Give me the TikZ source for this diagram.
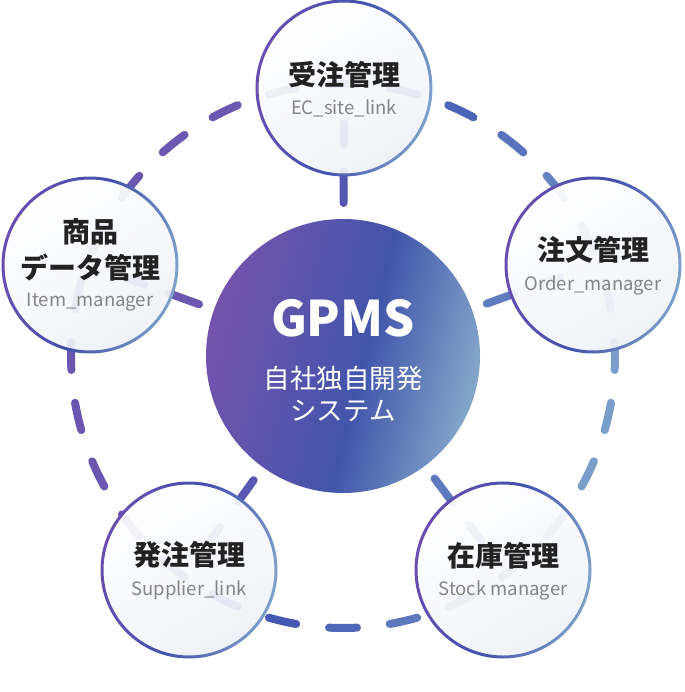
\documentclass[tikz,border=0pt]{standalone}
\usepackage{fontspec}
\setmainfont{Noto Sans CJK JP}
\definecolor{cP}{HTML}{6B56B0}
\definecolor{cB}{HTML}{4457B3}
\definecolor{cL}{HTML}{7A9DC9}
\definecolor{gP}{HTML}{7553AD}
\definecolor{gB}{HTML}{4255AB}
\definecolor{gL}{HTML}{84A8CA}
\definecolor{bP}{HTML}{6A4DAF}
\definecolor{bB}{HTML}{4352AD}
\definecolor{bL}{HTML}{7EA2C9}
\definecolor{cin}{HTML}{EDF1F8}
\definecolor{ttl}{HTML}{222222}
\definecolor{sub}{HTML}{858585}
\pgfdeclarehorizontalshading{gpmsshade}{100bp}{color(0bp)=(gP); color(25bp)=(gP); color(54bp)=(gB); color(75bp)=(gL); color(100bp)=(gL)}
\pgfdeclarehorizontalshading{bordershade}{100bp}{color(0bp)=(bP); color(25bp)=(bP); color(50bp)=(bB); color(75bp)=(bL); color(100bp)=(bL)}
\newcommand\setdc[1]{%
  \pgfmathsetmacro\dcp{100*max(0,min(1,(#1+130)/138))}%
  \pgfmathsetmacro\dcq{100*max(0,min(1,(#1-8)/262))}%
  \colorlet{dctmp}{cB!\dcp!cP}%
  \colorlet{dc}{cL!\dcq!dctmp}}
\colorlet{dc}{cB}
\tikzset{
  dashseg/.style={line width=8pt, line cap=round, draw=dc},
  title/.style={font=\fontsize{28}{30}\selectfont\bfseries, text=ttl, inner sep=0},
  subtitle/.style={font=\fontsize{18.5}{20}\selectfont, text=sub, inner sep=0},
  sat/.style={circle, minimum size=176pt, inner sep=0},
  hub/.style={circle, minimum size=274pt, inner sep=0},
}
\begin{document}
\begin{tikzpicture}[x=1pt,y=-1pt]
\useasboundingbox (0,0) rectangle (684,692);
\coordinate (ring) at (343,356);
\node[hub] (g) at (343,356) {};
\node[sat] (n1) at (344,88) {};
\node[sat] (n2) at (593,265) {};
\node[sat] (n3) at (503,570) {};
\node[sat] (n4) at (189,570) {};
\node[sat] (n5) at (90,265) {};
% dashed ring
\foreach \i in {0,...,27}{
  \pgfmathsetmacro\th{90+\i*360/28}
  \pgfmathsetmacro\sv{272*cos(\th)+0.27*272*sin(\th)}
  \setdc{\sv}
  \draw[dashseg] (ring) ++(\th-2.95:272) arc[start angle=\th-2.95, end angle=\th+2.95, radius=272];
}
% spokes
\foreach \n/\sv in {n1/-45, n2/142, n3/137, n4/-61, n5/-173}{
  \setdc{\sv}
  \draw[dashseg, shorten <=153pt, shorten >=84pt] (g.center) -- (\n.center);
  \draw[dashseg, shorten <=211pt, shorten >=35pt] (g.center) -- (\n.center);
}
% satellites
\foreach \n in {n1,n2,n3,n4,n5}{
  \shade[top color=white, bottom color=cin, shading angle=30, fill opacity=0.93] (\n.center) circle[radius=87];
  \shade[shading=bordershade, shading angle=-14, even odd rule] (\n.center) circle[radius=88.5] (\n.center) circle[radius=85.5];
}
% hub
\shade[shading=gpmsshade, shading angle=-14] (g.center) circle[radius=137];
% texts
\node[font=\fontsize{49}{52}\selectfont\bfseries, text=white, inner sep=0] (h1) at ([yshift=38pt]g.center) {GPMS};
\node[font=\fontsize{26.5}{28}\selectfont, text=white, inner sep=0] (h2) at ([yshift=-22pt]g.center) {自社独自開発};
\node[font=\fontsize{26.5}{28}\selectfont, text=white, inner sep=0] (h3) at ([yshift=-55pt]g.center) {システム};
\node[title] (t1) at ([yshift=13pt]n1.center) {受注管理};
\node[subtitle] (s1) at ([yshift=-20pt]n1.center) {EC\_site\_link};
\node[title] (t2) at ([yshift=15pt]n2.center) {注文管理};
\node[subtitle] (s2) at ([yshift=-20pt]n2.center) {Order\_manager};
\node[title] (t3) at ([yshift=14pt]n3.center) {在庫管理};
\node[subtitle] (s3) at ([yshift=-20pt]n3.center) {Stock manager};
\node[title] (t4) at ([yshift=15pt]n4.center) {発注管理};
\node[subtitle] (s4) at ([yshift=-20pt]n4.center) {Supplier\_link};
\node[title] (t5a) at ([yshift=33pt]n5.center) {商品};
\node[title] (t5b) at ([yshift=-3pt]n5.center) {データ管理};
\node[subtitle] (s5) at ([yshift=-37pt]n5.center) {Item\_manager};
\end{tikzpicture}
\end{document}
